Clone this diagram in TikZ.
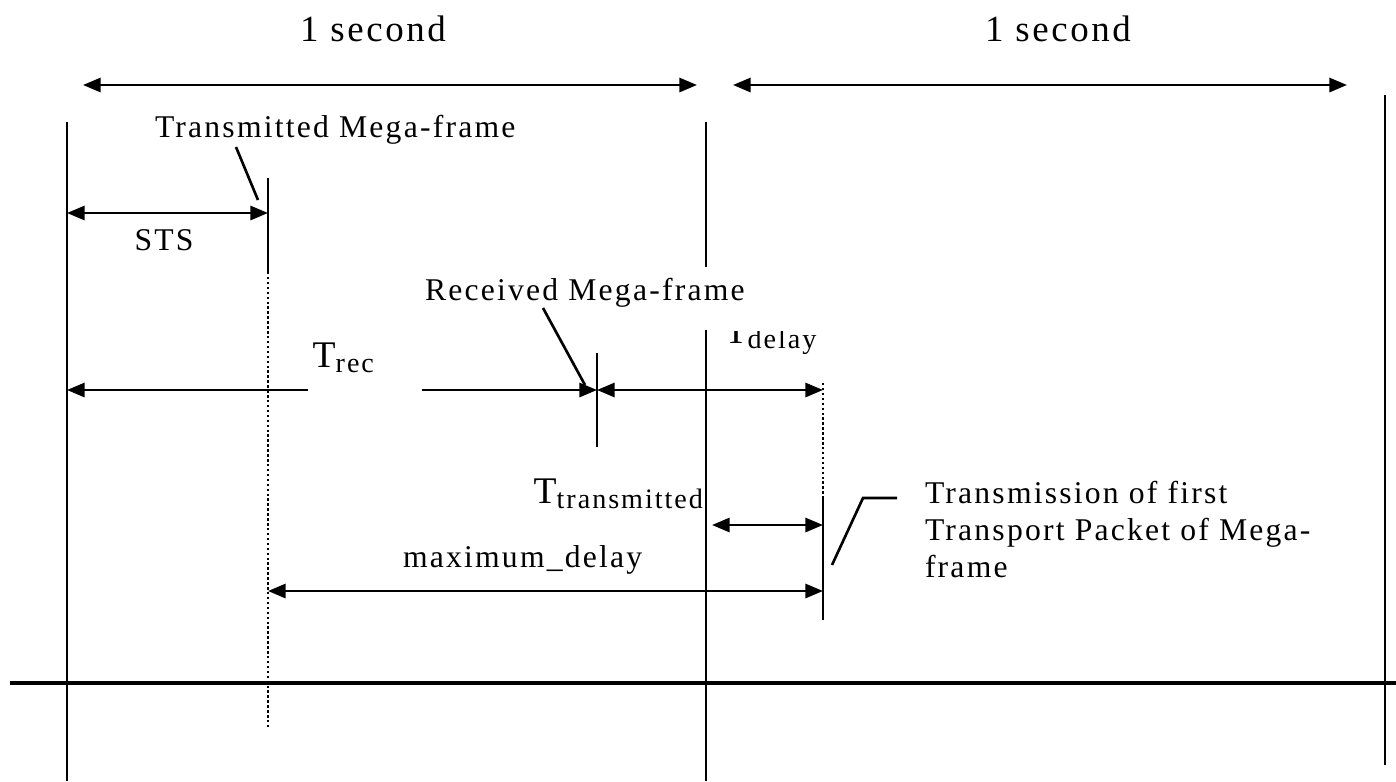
\documentclass[tikz,border=0pt]{standalone}
\usepackage{fontspec}
\setmainfont{Liberation Serif}[LetterSpace=7]
\usetikzlibrary{arrows.meta,positioning,calc}

% T with a lowered index, as used for the time spans
\newcommand{\Tsub}[1]{{\fontsize{10.7}{12}\selectfont T}\raisebox{-1.7pt}{\fontsize{8}{9}\selectfont #1}}

\tikzset{
  >={Triangle[length=5pt,width=4pt]},
  rule/.style={line width=0.75pt},
  dotline/.style={line width=0.45pt,dash pattern=on 0.7pt off 0.7pt},
  lbl/.style={inner sep=0pt,outer sep=0pt,font=\fontsize{9}{10.5}\selectfont},
  biglbl/.style={inner sep=0pt,outer sep=0pt,font=\fontsize{10.5}{12}\selectfont}
}

\begin{document}
\begin{tikzpicture}[x=0.01cm,y=-0.01cm]
  \useasboundingbox (0,0) rectangle (1396,781);

  % second boundaries and the time axis
  \coordinate (s0t) at (67,122);   \coordinate (s0b) at (67,781);
  \coordinate (s1t) at (706,122);  \coordinate (s1m) at (706,267);
  \coordinate (s1n) at (706,330);  \coordinate (s1b) at (706,781);
  \coordinate (s2t) at (1385,95);  \coordinate (s2b) at (1385,765);
  \coordinate (axl) at (10,683);   \coordinate (axr) at (1396,683);
  \draw[rule] (s0t) -- (s0b);
  \draw[rule] (s1t) -- (s1m);
  \draw[rule] (s1n) -- (s1b);
  \draw[rule] (s2t) -- (s2b);
  \draw[line width=0.9pt] (axl) -- (axr);

  % one second spans
  \coordinate (a1l) at (83,85);   \coordinate (a1r) at (697,85);
  \coordinate (a2l) at (733,85);  \coordinate (a2r) at (1347,85);
  \draw[rule,<->] (a1l) -- (a1r);
  \draw[rule,<->] (a2l) -- (a2r);
  \node[biglbl,anchor=base] (sec1) at (373,41) {1 second};
  \node[biglbl,anchor=base] (sec2) at (1058,41) {1 second};

  % mega-frame marks
  \coordinate (txt) at (268,178); \coordinate (txm) at (268,272); \coordinate (txb) at (268,727);
  \coordinate (rxt) at (597,353); \coordinate (rxb) at (597,447);
  \coordinate (fpd) at (823,383); \coordinate (fpt) at (823,497); \coordinate (fpb) at (823,620);
  \draw[rule] (txt) -- (txm);
  \draw[dotline] (txm) -- (txb);
  \draw[rule] (rxt) -- (rxb);
  \draw[dotline] (fpd) -- (fpt);
  \draw[rule] (fpt) -- (fpb);

  % levels of the span arrows
  \coordinate (ySTS) at (0,213);
  \coordinate (yrec) at (0,390);
  \coordinate (ytx)  at (0,525);
  \coordinate (ymax) at (0,591);
  \coordinate (gapl) at (308,390);
  \coordinate (gapr) at (422,390);
  \coordinate (ttxl) at (712,525);

  \draw[rule,<->] (s0t |- ySTS) -- (txt |- ySTS);
  \draw[rule,<-] (s0t |- yrec) -- (gapl);
  \draw[rule,->] (gapr) -- (rxt |- yrec);
  \draw[rule,<->] (rxt |- yrec) -- (fpd |- yrec);
  \draw[rule,<->] (ttxl) -- (fpt |- ytx);
  \draw[rule,<->] (txt |- ymax) -- (fpt |- ymax);

  % labels
  \node[lbl,anchor=base west] (txlbl) at (155,137) {Transmitted Mega-frame};
  \node[lbl,anchor=base] (sts) at (164,250) {STS};
  \node[inner sep=0pt,anchor=base west] (trec) at (312,367) {\Tsub{rec}};
  \node[lbl,anchor=base west] (rxlbl) at (425,300) {Received Mega-frame};
  \begin{scope}
    \clip (700,331) rectangle (840,360);
    \node[inner sep=0pt,anchor=base west] (tdel) at (724,343) {\Tsub{delay}};
  \end{scope}
  \node[inner sep=0pt,anchor=base west] (ttx) at (533,503) {\Tsub{transmitted}};
  \node[lbl,anchor=base west] (maxd) at (403,567) {maximum\_delay};
  \node[lbl,anchor=north west,align=left] (fplbl) at (925,481)
    {Transmission of first\\Transport Packet of Mega-\\frame};

  % leaders from the labels to the marks
  \coordinate (ld1a) at (236,147); \coordinate (ld1b) at (258,200);
  \coordinate (ld2a) at (543,308); \coordinate (ld2b) at (585,385);
  \coordinate (ld3a) at (832,565); \coordinate (ld3b) at (863,498); \coordinate (ld3c) at (897,498);
  \draw[rule] (ld1a) -- (ld1b);
  \draw[rule] (ld2a) -- (ld2b);
  \draw[rule] (ld3a) -- (ld3b) -- (ld3c);
\end{tikzpicture}
\end{document}
